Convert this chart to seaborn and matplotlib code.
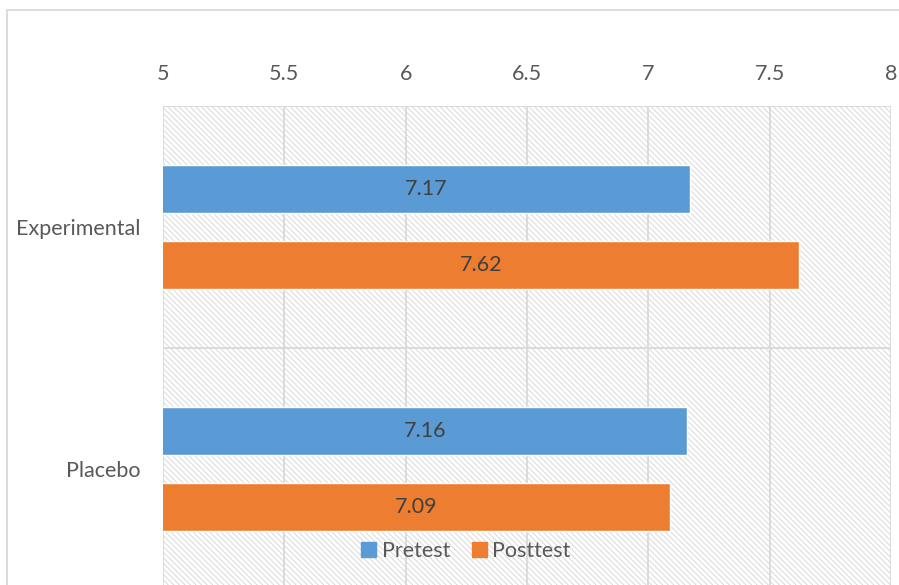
import matplotlib
matplotlib.use("Agg")
import matplotlib.pyplot as plt
import matplotlib.patches as mpatches
import seaborn as sns
import pandas as pd
import numpy as np

groups = ["Experimental", "Placebo"]
series = ["Pretest", "Posttest"]
pretest = [7.17, 7.16]
posttest = [7.62, 7.09]
xticks = [5, 5.5, 6, 6.5, 7, 7.5, 8]
colors = ["#5B9BD5", "#ED7D31"]

df = pd.DataFrame({
    "group": groups * 2,
    "series": [series[0]] * 2 + [series[1]] * 2,
    "value": pretest + posttest,
})

sns.set_theme(style="white")
plt.rcParams["font.family"] = ["Lato", "DejaVu Sans"]
plt.rcParams["hatch.linewidth"] = 0.7

FS = 15.5
W, H = 899, 585
fig = plt.figure(figsize=(W / 100, H / 100), dpi=100)
ax = fig.add_axes([163 / W, (585 - 590) / H, (891 - 163) / W, (590 - 106) / H])

# hatched plot background
bg = mpatches.Rectangle((0, 0), 1, 1, transform=ax.transAxes, facecolor="white",
                        edgecolor="#D9D9D9", linewidth=0, hatch="\\" * 6, zorder=0)
ax.add_patch(bg)
ax.patch.set_visible(False)

sns.barplot(data=df, x="value", y="group", hue="series", orient="h",
            palette=colors, width=0.628, gap=0.38, ax=ax, zorder=3,
            saturation=1, legend=False, errorbar=None)

ax.set_xlim(5, 8)
ax.set_ylim(1.5, -0.5)
ax.xaxis.tick_top()
ax.set_xticks(xticks)
ax.set_xticklabels([f"{t:g}" for t in xticks])
ax.tick_params(axis="x", length=0, pad=16, labelsize=FS, labelcolor="#595959")
ax.tick_params(axis="y", which="major", length=0, pad=16, labelsize=FS, labelcolor="#595959")
ax.set_yticks([-0.5, 0.5, 1.5], minor=True)
ax.tick_params(axis="y", which="minor", length=6, width=1.2, color="#D9D9D9", direction="out")
ax.set_xlabel("")
ax.set_ylabel("")

for x in xticks:
    ax.axvline(x, color="#D9D9D9", linewidth=1.3, zorder=1)
for y in [-0.5, 0.5, 1.5]:
    ax.axhline(y, color="#D9D9D9", linewidth=1.3, zorder=1)
for s in ax.spines.values():
    s.set_visible(False)

for c in ax.containers:
    ax.bar_label(c, labels=[f"{v:.2f}" for v in c.datavalues], label_type="center",
                 fontsize=FS, color="#404040")

handles = [mpatches.Patch(color=colors[i], label=series[i]) for i in range(2)]
fig.legend(handles=handles, loc="center", bbox_to_anchor=(466 / W, (585 - 551) / H),
           ncol=2, frameon=False, fontsize=FS, labelcolor="#595959",
           handlelength=0.7, handleheight=0.7, handletextpad=0.25, columnspacing=1.0)

border = mpatches.Rectangle((7 / W, -0.1), 1.0, (585 - 10) / H + 0.1, transform=fig.transFigure,
                            facecolor="none", edgecolor="#D9D9D9", linewidth=1.3, clip_on=False)
fig.patches.append(border)

fig.savefig("out.png", dpi=100)
